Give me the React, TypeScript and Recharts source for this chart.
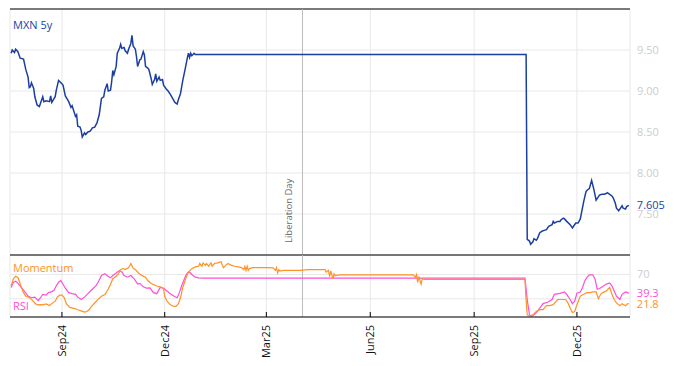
import React from 'react';
import { LineChart, Line, XAxis, YAxis, CartesianGrid, ReferenceLine } from 'recharts';

const FONT = "'Open Sans', 'Liberation Sans', sans-serif";
const BLUE = '#1c3f9f';
const ORANGE = '#ff9226';
const MAGENTA = '#ff4fd6';

const domainDates = ['2024-07-17', '2026-01-17'];
const monthTickDates = ['2024-09-01', '2024-12-01', '2025-03-01', '2025-06-01', '2025-09-01', '2025-12-01'];
const monthTickLabels = ['Sep24', 'Dec24', 'Mar25', 'Jun25', 'Sep25', 'Dec25'];
const mainTicks = [7.5, 8, 8.5, 9, 9.5];
const mainDomain = [7, 10];
const indTicks = [30, 70];
const indTickLabels = ['', '70'];
const indDomain = [0, 102];
const eventDate = '2025-04-02';
const eventLabel = 'Liberation Day';
const mainTitle = 'MXN 5y';
const momTitle = 'Momentum';
const rsiTitle = 'RSI';

const mxnDates = [
  '2024-07-18','2024-07-19','2024-07-21','2024-07-22','2024-07-24','2024-07-26','2024-07-29','2024-07-31',
  '2024-08-02','2024-08-03','2024-08-04','2024-08-05','2024-08-07','2024-08-08','2024-08-10','2024-08-12',
  '2024-08-13','2024-08-15','2024-08-16','2024-08-18','2024-08-21','2024-08-22','2024-08-23','2024-08-26',
  '2024-08-27','2024-08-29','2024-09-01','2024-09-02','2024-09-04','2024-09-07','2024-09-09','2024-09-10',
  '2024-09-13','2024-09-14','2024-09-15','2024-09-17','2024-09-18','2024-09-19','2024-09-21','2024-09-22',
  '2024-09-24','2024-09-26','2024-09-28','2024-09-30','2024-10-02','2024-10-04','2024-10-06','2024-10-08',
  '2024-10-09','2024-10-11','2024-10-12','2024-10-14','2024-10-15','2024-10-16','2024-10-17','2024-10-19',
  '2024-10-20','2024-10-22','2024-10-23','2024-10-24','2024-10-26','2024-10-27','2024-10-29','2024-10-30',
  '2024-11-01','2024-11-02','2024-11-03','2024-11-05','2024-11-06','2024-11-07','2024-11-09','2024-11-10',
  '2024-11-12','2024-11-13','2024-11-14','2024-11-16','2024-11-17','2024-11-19','2024-11-20','2024-11-22',
  '2024-11-23','2024-11-24','2024-11-26','2024-11-27','2024-11-29','2024-11-30','2024-12-02','2024-12-04',
  '2024-12-06','2024-12-08','2024-12-10','2024-12-12','2024-12-13','2024-12-15','2024-12-16','2024-12-17',
  '2024-12-19','2024-12-21','2024-12-22','2024-12-23','2024-12-24','2024-12-25','2024-12-27','2024-12-28',
  '2025-10-17','2025-10-18','2025-10-20','2025-10-21','2025-10-23','2025-10-24','2025-10-26','2025-10-27',
  '2025-10-29','2025-10-31','2025-11-02','2025-11-04','2025-11-06','2025-11-09','2025-11-10','2025-11-11',
  '2025-11-14','2025-11-16','2025-11-17','2025-11-19','2025-11-20','2025-11-22','2025-11-25','2025-11-27',
  '2025-11-28','2025-11-30','2025-12-02','2025-12-04','2025-12-05','2025-12-07','2025-12-09','2025-12-10',
  '2025-12-12','2025-12-14','2025-12-16','2025-12-18','2025-12-21','2025-12-23','2025-12-25','2025-12-27',
  '2025-12-28','2025-12-30','2026-01-01','2026-01-02','2026-01-04','2026-01-05','2026-01-07','2026-01-08',
  '2026-01-10','2026-01-11','2026-01-13','2026-01-14','2026-01-16',
];
const mxnValues = [
  9.46, 9.50, 9.47, 9.51, 9.48, 9.40, 9.39, 9.26,
  9.17, 9.04, 9.05, 9.10, 9.03, 8.93, 8.83, 8.81,
  8.85, 8.93, 8.87, 8.88, 8.87, 8.94, 8.86, 8.93,
  9.01, 9.13, 9.09, 9.07, 8.94, 8.87, 8.80, 8.82,
  8.69, 8.71, 8.57, 8.56, 8.52, 8.44, 8.49, 8.47,
  8.50, 8.51, 8.55, 8.56, 8.61, 8.71, 8.91, 8.93,
  9.01, 9.09, 9.00, 9.01, 9.11, 9.25, 9.20, 9.30,
  9.46, 9.52, 9.57, 9.52, 9.53, 9.49, 9.46, 9.51,
  9.58, 9.68, 9.55, 9.51, 9.42, 9.30, 9.38, 9.39,
  9.48, 9.44, 9.30, 9.28, 9.26, 9.15, 9.08, 9.14,
  9.21, 9.12, 9.17, 9.13, 9.14, 9.07, 9.03, 9.00,
  8.96, 8.91, 8.86, 8.84, 8.89, 8.97, 9.05, 9.13,
  9.26, 9.40, 9.46, 9.41, 9.46, 9.43, 9.46, 9.445,
  9.445, 7.19, 7.17, 7.13, 7.16, 7.20, 7.18, 7.20,
  7.27, 7.29, 7.30, 7.31, 7.35, 7.37, 7.41, 7.39,
  7.41, 7.41, 7.43, 7.45, 7.44, 7.41, 7.37, 7.33,
  7.35, 7.39, 7.39, 7.44, 7.51, 7.65, 7.77, 7.79,
  7.81, 7.91, 7.80, 7.67, 7.73, 7.74, 7.74, 7.75,
  7.76, 7.74, 7.72, 7.70, 7.63, 7.57, 7.54, 7.56,
  7.60, 7.57, 7.56, 7.59, 7.605,
];

const momDates = [
  '2024-07-18','2024-07-20','2024-07-22','2024-07-24','2024-07-25','2024-07-27','2024-07-29','2024-07-31',
  '2024-08-02','2024-08-05','2024-08-08','2024-08-10','2024-08-13','2024-08-15','2024-08-18','2024-08-21',
  '2024-08-23','2024-08-26','2024-08-28','2024-08-30','2024-09-01','2024-09-03','2024-09-05','2024-09-08',
  '2024-09-13','2024-09-15','2024-09-18','2024-09-21','2024-09-23','2024-09-25','2024-09-27','2024-09-30',
  '2024-10-03','2024-10-06','2024-10-09','2024-10-12','2024-10-14','2024-10-16','2024-10-19','2024-10-21',
  '2024-10-23','2024-10-25','2024-10-27','2024-10-30','2024-11-01','2024-11-03','2024-11-05','2024-11-08',
  '2024-11-11','2024-11-14','2024-11-16','2024-11-19','2024-11-24','2024-11-27','2024-11-30','2024-12-01',
  '2024-12-03','2024-12-06','2024-12-09','2024-12-11','2024-12-13','2024-12-15','2024-12-17','2024-12-20',
  '2024-12-22','2024-12-25','2024-12-28','2024-12-31','2025-01-01','2025-01-03','2025-01-04','2025-01-06',
  '2025-01-07','2025-01-09','2025-01-11','2025-01-12','2025-01-14','2025-01-17','2025-01-20','2025-01-21',
  '2025-01-22','2025-01-24','2025-01-26','2025-01-29','2025-02-01','2025-02-04','2025-02-07','2025-02-09',
  '2025-02-10','2025-02-11','2025-02-12','2025-02-13','2025-02-14','2025-02-17','2025-03-01','2025-03-07',
  '2025-03-09','2025-03-10','2025-03-11','2025-03-12','2025-03-13','2025-03-16','2025-03-31','2025-04-07',
  '2025-04-22','2025-04-23','2025-04-25','2025-04-26','2025-04-27','2025-04-29','2025-04-30','2025-05-01',
  '2025-05-05','2025-07-09','2025-07-11','2025-07-12','2025-07-13','2025-07-14','2025-07-16','2025-07-17',
  '2025-07-19','2025-10-16','2025-10-17','2025-10-18','2025-10-20','2025-10-23','2025-10-26','2025-10-29',
  '2025-11-01','2025-11-04','2025-11-07','2025-11-10','2025-11-14','2025-11-19','2025-11-21','2025-11-23',
  '2025-11-25','2025-11-27','2025-11-29','2025-12-01','2025-12-04','2025-12-07','2025-12-10','2025-12-13',
  '2025-12-15','2025-12-18','2025-12-20','2025-12-22','2025-12-24','2025-12-27','2025-12-30','2026-01-01',
  '2026-01-03','2026-01-05','2026-01-08','2026-01-10','2026-01-13','2026-01-15','2026-01-16',
];
const momValues = [
  51, 63, 67, 65, 60, 49, 40, 34,
  33, 29, 23, 20, 20.5, 20, 21.5, 19,
  22, 26, 33, 36, 36, 32, 21.5, 15.7,
  13.5, 12, 10, 8, 9, 12, 17, 23,
  29, 34, 37, 46, 54, 63, 67, 71,
  78, 80, 78, 81, 88, 80, 78, 72,
  68, 65.5, 60, 55, 51, 49.6, 47, 34,
  26, 20, 17.4, 17.4, 21.5, 31.7, 48.6, 65.5,
  74, 79.6, 82.5, 83.5, 88, 83.5, 89, 85,
  88, 83.5, 89, 83.5, 88, 89, 91, 85,
  81, 85, 88, 85, 83.5, 82.5, 81.3, 78,
  83.5, 76.7, 83.5, 76.7, 79.6, 81.3, 81.3, 80.8,
  76.7, 81.3, 72.3, 77.9, 75.7, 76.7, 76.7, 77.9,
  77.9, 74, 76.7, 66.6, 75.7, 62.7, 71.1, 68.2,
  69.4, 69.4, 65.5, 69.9, 57.1, 66.6, 54.2, 62.7,
  61.8, 61.8, 28, 3.4, 1.7, 3.4, 9, 12,
  12, 18.6, 18.6, 20.3, 28.8, 28.8, 28.8, 23.2,
  14.7, 7.3, 9, 20.3, 34.4, 37.3, 40.1, 40.1,
  41.2, 41.2, 30, 37.3, 40.1, 42.9, 48.6, 37.3,
  28.8, 23.2, 18.6, 22, 18.6, 22, 21.8,
];

const rsiDates = [
  '2024-07-18','2024-07-20','2024-07-22','2024-07-24','2024-07-27','2024-07-30','2024-08-02','2024-08-05',
  '2024-08-08','2024-08-10','2024-08-11','2024-08-13','2024-08-15','2024-08-18','2024-08-20','2024-08-23',
  '2024-08-25','2024-08-27','2024-08-29','2024-08-31','2024-09-01','2024-09-04','2024-09-07','2024-09-10',
  '2024-09-13','2024-09-15','2024-09-18','2024-09-21','2024-09-24','2024-09-27','2024-10-01','2024-10-03',
  '2024-10-06','2024-10-09','2024-10-12','2024-10-14','2024-10-16','2024-10-19','2024-10-22','2024-10-24',
  '2024-10-26','2024-10-29','2024-11-01','2024-11-04','2024-11-07','2024-11-09','2024-11-12','2024-11-15',
  '2024-11-18','2024-11-21','2024-11-24','2024-11-27','2024-11-30','2024-12-03','2024-12-06','2024-12-09',
  '2024-12-12','2024-12-14','2024-12-16','2024-12-19','2024-12-21','2024-12-23','2024-12-25','2024-12-28',
  '2024-12-31','2025-01-04','2025-10-16','2025-10-18','2025-10-20','2025-10-22','2025-10-25','2025-10-28',
  '2025-11-01','2025-11-05','2025-11-09','2025-11-11','2025-11-16','2025-11-20','2025-11-22','2025-11-25',
  '2025-11-27','2025-11-29','2025-12-01','2025-12-04','2025-12-06','2025-12-08','2025-12-10','2025-12-12',
  '2025-12-15','2025-12-17','2025-12-19','2025-12-21','2025-12-24','2025-12-27','2025-12-30','2026-01-01',
  '2026-01-03','2026-01-05','2026-01-08','2026-01-10','2026-01-13','2026-01-16',
];
const rsiValues = [
  48.6, 57, 58.8, 55.4, 48.6, 41.8, 34.4, 31.7,
  32.7, 28.8, 27.1, 31.7, 37.3, 36.1, 40.1, 41.8,
  44, 51.3, 57.1, 59.8, 57.1, 47.4, 40.1, 38.4,
  37.3, 32.7, 28.8, 32.7, 38.4, 44, 51.3, 57.1,
  68.2, 71.1, 66.6, 64.4, 68.2, 72.3, 76.7, 74,
  68.2, 65.5, 68.2, 62.7, 54.2, 55.4, 49.6, 47.4,
  48, 40.1, 38.4, 48.6, 47.4, 42.9, 38.4, 34.4,
  31.7, 40.1, 51.3, 65.5, 72.3, 74, 69.9, 65.5,
  64.4, 63.8, 63.8, 28.8, 3.4, 1.7, 5.1, 11.9,
  22, 24.2, 28.8, 37.3, 39, 41.2, 37.3, 28.8,
  22, 25.9, 39, 41.2, 48.6, 59.8, 65.5, 69.4,
  69.4, 62.7, 45.7, 46.9, 50.3, 54.2, 55.9, 51.3,
  42.9, 34.4, 28.8, 37.3, 41.2, 39.3,
];

const toT = (d: string) => Date.parse(d + 'T00:00:00Z');
const xDomain = domainDates.map(toT);
const xTicks = monthTickDates.map(toT);
const eventT = toT(eventDate);

const mainData = mxnDates.map((d, i) => ({ t: toT(d), mxn: mxnValues[i] }));

const indMap = new Map<number, any>();
momDates.forEach((d, i) => {
  const t = toT(d);
  const r = indMap.get(t) || { t };
  r.mom = momValues[i];
  indMap.set(t, r);
});
rsiDates.forEach((d, i) => {
  const t = toT(d);
  const r = indMap.get(t) || { t };
  r.rsi = rsiValues[i];
  indMap.set(t, r);
});
const indData = Array.from(indMap.values()).sort((a, b) => a.t - b.t);

const mainLast = mainData.length - 1;
const indLast = indData.length - 1;

const MainYTick = (props: any) => {
  const { x, y, payload } = props;
  return (
    <text x={x + 7} y={y} dy={4} fill="#cdcdcd" fontSize={11} fontFamily={FONT}>
      {Number(payload.value).toFixed(2)}
    </text>
  );
};

const IndYTick = (props: any) => {
  const { x, y, payload } = props;
  const label = indTickLabels[indTicks.indexOf(payload.value)] || '';
  return (
    <text x={x + 7} y={y} dy={4} fill="#cdcdcd" fontSize={11} fontFamily={FONT}>
      {label}
    </text>
  );
};

const TickMark = (props: any) => {
  const { x, y } = props;
  return <line x1={x} x2={x} y1={y} y2={y - 5} stroke="#000" strokeWidth={1} />;
};

const MonthTick = (props: any) => {
  const { x, y, payload } = props;
  const label = monthTickLabels[xTicks.indexOf(payload.value)] || '';
  return (
    <g>
      <line x1={x} x2={x} y1={y} y2={y - 5} stroke="#000" strokeWidth={1} />
      <text
        transform={`translate(${x + 4},${y + 8}) rotate(-90)`}
        textAnchor="end"
        fontSize={11}
        fill="#111"
        fontFamily={FONT}
      >
        {label}
      </text>
    </g>
  );
};

const EventLabel = (props: any) => {
  const vb = props.viewBox || {};
  const x = vb.x - 10;
  const y = vb.y + vb.height - 12;
  return (
    <text transform={`translate(${x},${y}) rotate(-90)`} fontSize={9.5} fill="#6b6b6b" fontFamily={FONT}>
      {eventLabel}
    </text>
  );
};

const endLabel = (color: string, digits: number, lastIdx: number) => (props: any) => {
  const { x, y, value, index } = props;
  if (index !== lastIdx || value == null) return null;
  return (
    <text x={x + 8} y={y} dy={4} fill={color} fontSize={11} fontFamily={FONT}>
      {Number(value).toFixed(digits)}
    </text>
  );
};

export default function App() {
  return (
    <div style={{ position: 'fixed', left: 0, top: 0, width: 674, height: 366, background: '#fff', fontFamily: FONT }}>
      <div style={{ position: 'absolute', left: 0, top: 0 }}>
        <LineChart width={674} height={256} data={mainData} margin={{ top: 9, right: 0, bottom: 1, left: 10 }}>
          <CartesianGrid stroke="#e8e8e8" />
          <XAxis
            dataKey="t"
            type="number"
            domain={xDomain}
            ticks={xTicks}
            height={0}
            tickSize={0}
            tickMargin={0}
            tickLine={false}
            axisLine={{ stroke: '#000' }}
            tick={TickMark}
            interval={0}
          />
          <YAxis
            orientation="right"
            width={44}
            domain={mainDomain}
            ticks={mainTicks}
            axisLine={false}
            tickLine={false}
            tickSize={0}
            tickMargin={0}
            tick={MainYTick}
            interval={0}
          />
          <ReferenceLine y={mainDomain[1]} stroke="#000" />
          <ReferenceLine x={eventT} stroke="#bdbdbd" label={EventLabel} />
          <Line
            dataKey="mxn"
            stroke={BLUE}
            strokeWidth={1.5}
            dot={false}
            isAnimationActive={false}
            label={endLabel(BLUE, 3, mainLast)}
          />
        </LineChart>
      </div>
      <div style={{ position: 'absolute', left: 0, top: 254 }}>
        <LineChart width={674} height={112} data={indData} margin={{ top: 1, right: 0, bottom: 0, left: 10 }}>
          <CartesianGrid stroke="#e8e8e8" />
          <XAxis
            dataKey="t"
            type="number"
            domain={xDomain}
            ticks={xTicks}
            height={49}
            tickSize={0}
            tickMargin={0}
            tickLine={false}
            axisLine={{ stroke: '#000' }}
            tick={MonthTick}
            interval={0}
          />
          <YAxis
            orientation="right"
            width={44}
            domain={indDomain}
            ticks={indTicks}
            axisLine={false}
            tickLine={false}
            tickSize={0}
            tickMargin={0}
            tick={IndYTick}
            interval={0}
          />
          <ReferenceLine y={indDomain[1]} stroke="#000" />
          <ReferenceLine x={eventT} stroke="#bdbdbd" />
          <Line
            dataKey="rsi"
            stroke={MAGENTA}
            strokeWidth={1.2}
            dot={false}
            connectNulls
            isAnimationActive={false}
            label={endLabel(MAGENTA, 1, indLast)}
          />
          <Line
            dataKey="mom"
            stroke={ORANGE}
            strokeWidth={1.2}
            dot={false}
            connectNulls
            isAnimationActive={false}
            label={endLabel(ORANGE, 1, indLast)}
          />
        </LineChart>
      </div>
      <svg width={674} height={366} style={{ position: 'absolute', left: 0, top: 0, pointerEvents: 'none' }}>
        <text x={13} y={29} fill={BLUE} fontSize={11} fontFamily={FONT}>{mainTitle}</text>
        <text x={13} y={272} fill={ORANGE} fontSize={11} fontFamily={FONT}>{momTitle}</text>
        <text x={13} y={310} fill={MAGENTA} fontSize={11} fontFamily={FONT}>{rsiTitle}</text>
      </svg>
    </div>
  );
}
